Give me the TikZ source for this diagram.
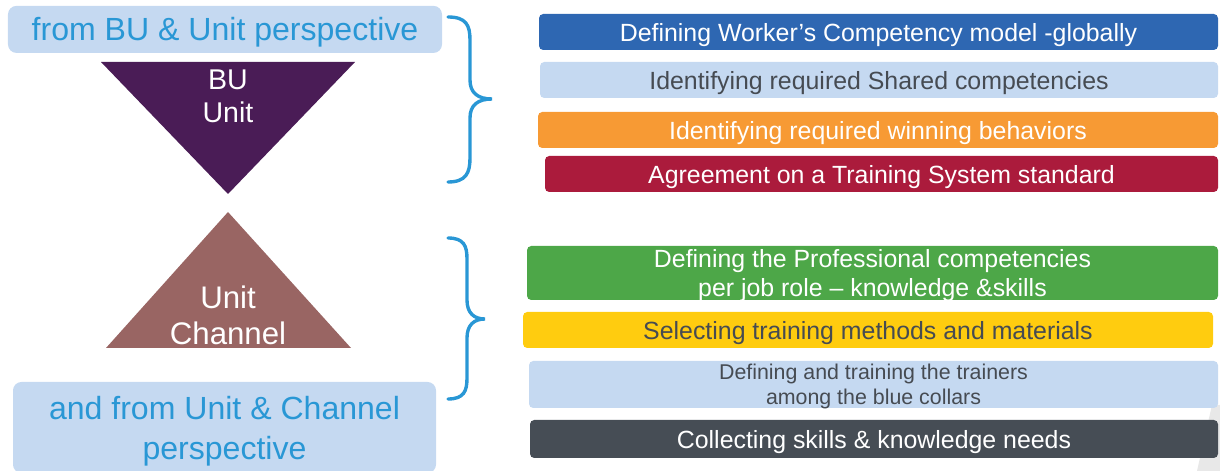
\documentclass[tikz,border=0pt]{standalone}
\usepackage{fontspec}
\setmainfont{Liberation Sans}
\definecolor{ws_sky}{RGB}{197, 217, 241}
\definecolor{ws_cyan}{RGB}{41, 151, 213}
\definecolor{ws_blue}{RGB}{46, 103, 178}
\definecolor{ws_orange}{RGB}{247, 154, 52}
\definecolor{ws_red}{RGB}{171, 27, 60}
\definecolor{ws_green}{RGB}{77, 167, 72}
\definecolor{ws_yellow}{RGB}{255, 204, 15}
\definecolor{ws_slate}{RGB}{70, 77, 85}
\definecolor{ws_gray}{RGB}{70, 75, 82}
\definecolor{ws_purple}{RGB}{74, 28, 86}
\definecolor{ws_rose}{RGB}{153, 101, 99}
\usepackage{tikz}
\usetikzlibrary{positioning}

\begin{document}
\begin{tikzpicture}[
        bar/.style={rectangle, rounded corners=3pt, inner sep=0pt,
                    minimum height=0.9cm, align=center,
                    text height=17.2pt, text depth=3.7pt,
                    font=\fontsize{17.7}{20.6}\selectfont},
        twoline/.style={text height=, text depth=0pt},
        persp/.style={rectangle, rounded corners=6pt, inner sep=0pt,
                      fill=ws_sky, text=ws_cyan, align=center,
                      font=\fontsize{22.8}{28.5}\selectfont},
        tri/.style={text=white, align=center},
        brace/.style={draw=ws_cyan, line width=2.4pt, line cap=round},
      ]
        \useasboundingbox (0,0) rectangle (30.5,11.775);
        \fill[black!9] (30.3,1.65) -- (30.5,1.65) -- (30.5,0) -- (29.925,0) -- cycle;

        \node[persp, minimum width=10.85cm, minimum height=1.175cm,
              text height=20.8pt, text depth=4.8pt] (top)
          at (5.625, 11.04) {from BU \& Unit perspective};
        \node[persp, twoline, minimum width=10.575cm, minimum height=2.275cm] (bot)
          at (5.6125, 1.0875) {and from Unit \& Channel\\perspective};

        \fill[ws_purple] (2.525,10.225) -- (8.875,10.225) -- (5.7,6.925) -- cycle;
        \node[tri, font=\fontsize{20.3}{23.5}\selectfont] (bu)
          at (5.7, 9.36) {BU\\Unit};
        \fill[ws_rose] (5.7,6.475) -- (8.775,3.075) -- (2.65,3.075) -- cycle;
        \node[tri, font=\fontsize{22.2}{25.6}\selectfont] (uc)
          at (5.7, 3.9) {Unit\\Channel};

        \draw[brace] (11.2,11.35) .. controls (11.65,11.35) and (11.75,11.15) .. (11.75,10.775)
          -- (11.75,9.775) .. controls (11.75,9.45) and (11.95,9.3) .. (12.3,9.3)
          .. controls (11.95,9.3) and (11.75,9.15) .. (11.75,8.825)
          -- (11.75,7.825) .. controls (11.75,7.45) and (11.65,7.225) .. (11.2,7.225);
        \draw[brace] (11.2,5.825) .. controls (11.6,5.825) and (11.675,5.625) .. (11.675,5.3)
          -- (11.675,4.275) .. controls (11.675,3.95) and (11.85,3.8) .. (12.125,3.8)
          .. controls (11.85,3.8) and (11.675,3.65) .. (11.675,3.325)
          -- (11.675,2.325) .. controls (11.675,2.0) and (11.6,1.8) .. (11.2,1.8);

        \node[bar, fill=ws_blue, text=white, minimum width=16.975cm] (b1)
          at (21.9625, 10.975) {Defining Worker’s Competency model -globally};
        \node[bar, fill=ws_sky, text=ws_gray, minimum width=16.95cm] (b2)
          at (21.975, 9.775) {Identifying required Shared competencies};
        \node[bar, fill=ws_orange, text=white, minimum width=17cm] (b3)
          at (21.95, 8.525) {Identifying required winning behaviors};
        \node[bar, fill=ws_red, text=white, minimum width=16.825cm] (b4)
          at (22.0375, 7.425) {Agreement on a Training System standard};

        \node[bar, twoline, fill=ws_green, text=white, minimum width=17.275cm,
              minimum height=1.35cm] (b5)
          at (21.8125, 4.95) {Defining the Professional competencies\\per job role – knowledge \&skills};
        \node[bar, fill=ws_yellow, text=ws_gray, minimum width=17.25cm] (b6)
          at (21.7, 3.525) {Selecting training methods and materials};
        \node[bar, twoline, fill=ws_sky, text=ws_gray, minimum width=17.225cm,
              minimum height=1.175cm, font=\fontsize{15.2}{17.8}\selectfont] (b7)
          at (21.8375, 2.1625) {Defining and training the trainers\\among the blue collars};
        \node[bar, fill=ws_slate, text=white, minimum width=17.2cm,
              minimum height=0.95cm] (b8)
          at (21.85, 0.8) {Collecting skills \& knowledge needs};
      \end{tikzpicture}
\end{document}
